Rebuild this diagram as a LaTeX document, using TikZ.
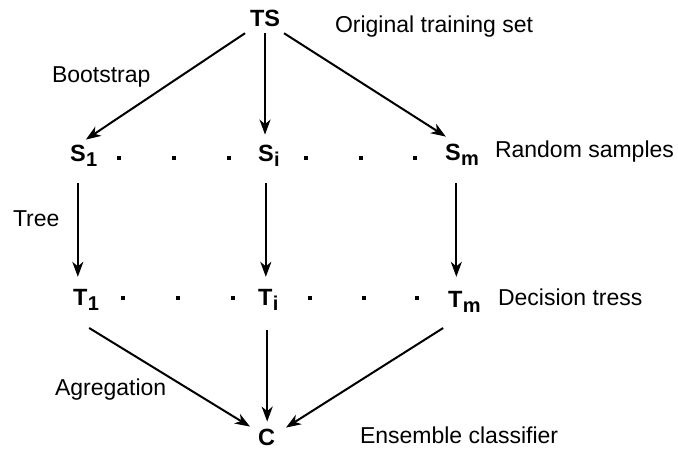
\documentclass[tikz,border=0pt]{standalone}
\usepackage{fontspec}
\setmainfont{Liberation Sans}
\usetikzlibrary{arrows.meta,calc}
\newcommand{\mainsz}{\fontsize{23}{27}\selectfont}
\newcommand{\varsz}{\fontsize{23.5}{27}\selectfont\bfseries}
\newcommand{\subsz}{\fontsize{20}{22}\selectfont\bfseries}
\newcommand{\sub}[1]{\rlap{\kern0.5pt\raisebox{-5pt}{\subsz #1}}}
\begin{document}
\begin{tikzpicture}[x=1pt,y=-1pt,
  every node/.style={inner sep=0pt,outer sep=0pt,anchor=base west,font=\mainsz},
  var/.style={font=\varsz},
  lbl/.style={},
  dotn/.style={fill=black,minimum width=3.8pt,minimum height=3.8pt,anchor=center},
  arr/.style={line width=2pt,-{Stealth[length=15pt,width=11pt,inset=4.5pt]}}]
\useasboundingbox (0,0) rectangle (678,456);
% main nodes
\node[var] (TS) at (250,26) {TS};
\node[var] (S1) at (70,161) {S\sub{1}};
\node[var] (Si) at (258,161) {S\sub{i}};
\node[var] (Sm) at (445,160) {S\sub{m}};
\node[var] (T1) at (73,305) {T\sub{1}};
\node[var] (Ti) at (258,305) {T\sub{i}};
\node[var] (Tm) at (448,307) {T\sub{m}};
\node[var] (C) at (258,445) {C};
% labels
\node[lbl] (lorig) at (335,32) {Original training set};
\node[lbl] (lboot) at (52,82) {Bootstrap};
\node[lbl] (lrand) at (495,157) {Random samples};
\node[lbl] (ltree) at (13,226) {Tree};
\node[lbl] (ldec) at (498,305) {Decision tress};
\node[lbl] (lagr) at (55,395) {Agregation};
\node[lbl] (lens) at (360,443) {Ensemble classifier};
% dots
\foreach \x [count=\k] in {119,174,229,306,361,415}
  \node[dotn] (da\k) at (\x,158) {};
\foreach \x [count=\k] in {123,178,233,310,364,417}
  \node[dotn] (db\k) at (\x,298) {};
% connectors
\draw[arr] ($(TS.south west)+(-5,7)$) -- ($(S1.north)+(8,-5)$);
\draw[arr] ($(TS.south)+(0,7)$) -- ($(TS.south |- Si.north)+(0,-10)$);
\draw[arr] ($(TS.south east)+(4,7)$) -- ($(Sm.north)+(-7,-7)$);
\draw[arr] ($(S1.south)+(0,17)$) -- ($(S1.south |- T1.north)+(0,-12)$);
\draw[arr] ($(Si.south)+(0,17)$) -- ($(Si.south |- Ti.north)+(0,-12)$);
\draw[arr] ($(Sm.south)+(3.5,18)$) -- ($(Sm.south |- Tm.north)+(3.5,-14)$);
\draw[arr] ($(T1.south)+(9,18)$) -- ($(C.north west)+(-8,-2)$);
\draw[arr] ($(Ti.south)+(2,20)$) -- ($(Ti.south |- C.north)+(2,-7)$);
\draw[arr] ($(Tm.south)+(-12,16)$) -- ($(C.north east)+(11,-1)$);
\end{tikzpicture}
\end{document}
